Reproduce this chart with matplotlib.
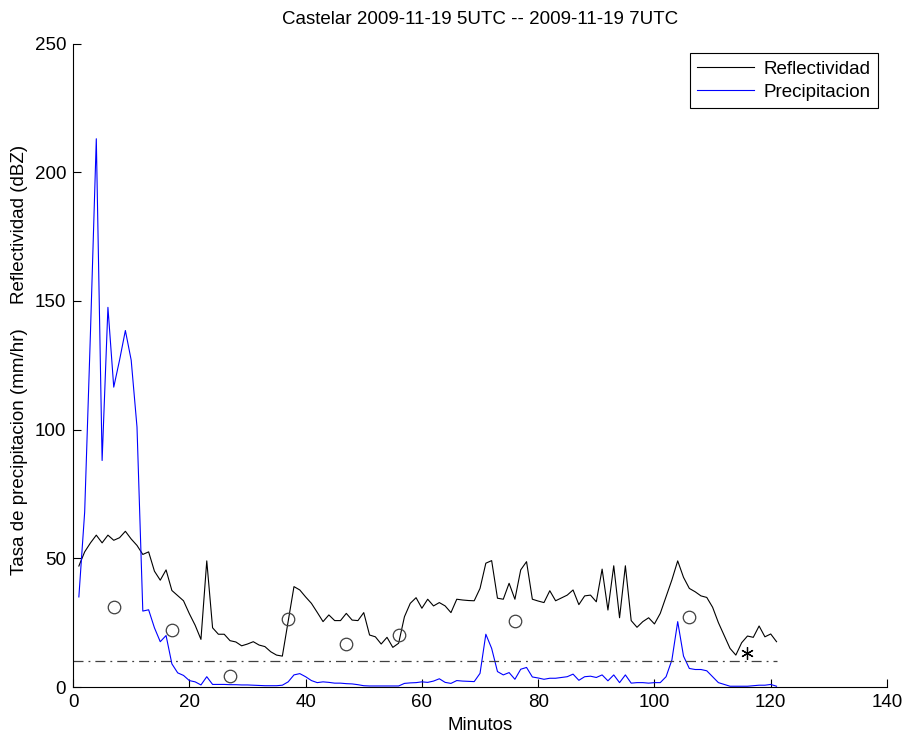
import numpy as np
import matplotlib.pyplot as plt

# ------------------------------------------------------------------ #
#   Data (one sample per minute, 1..121)
# ------------------------------------------------------------------ #
minutos = np.arange(1, 122)

reflectividad = [
    47, 52.5, 56, 59, 56, 59, 57, 58, 60.5, 57.5,
    55, 51.5, 52.5, 45, 41.5, 45.5, 37.5, 35.5, 33.5, 28.5,
    24, 18.5, 49, 23, 20.5, 20.5, 18, 17.5, 16, 16.7,
    17.6, 16.3, 15.7, 13.7, 12.4, 12, 25.5, 39, 37.7, 35,
    32.5, 29, 25.4, 28, 25.8, 25.8, 28.6, 26, 25.8, 28.9,
    20.2, 19.5, 16.7, 19.3, 15.4, 17, 27.3, 32.5, 34.7, 30.6,
    34.1, 31.5, 32.8, 31.5, 28.9, 34.1, 33.8, 33.6, 33.5, 38.3,
    48.1, 49.1, 34.5, 34.1, 40.3, 34.1, 45.5, 48.7, 34.1, 33.4,
    32.8, 37.4, 33.5, 34.6, 35.7, 37.7, 32, 35.4, 35.7, 33.1,
    45.8, 29.9, 47.1, 26.9, 47.1, 25.8, 23.2, 25.4, 26.9, 24.5,
    28.6, 35.1, 41.6, 49, 42.6, 38.3, 37, 35.4, 34.8, 31,
    25, 20, 15, 12.4, 17.2, 19.8, 19.3, 23.7, 19.5, 20.6,
    17.6,
]

precipitacion = [
    35, 68, 138, 213, 88, 147.5, 116.5, 127, 138.5, 127,
    101, 29.5, 30, 23, 17.6, 20, 9, 5.5, 4.5, 2.5,
    2, 0.8, 4, 1.0, 1.0, 1.0, 0.9, 0.9, 0.8, 0.8,
    0.7, 0.6, 0.5, 0.5, 0.5, 0.7, 2, 4.7, 5.2, 4,
    2.5, 1.7, 2, 1.8, 1.5, 1.5, 1.3, 1.2, 0.9, 0.5,
    0.4, 0.4, 0.4, 0.4, 0.4, 0.4, 1.4, 1.6, 1.7, 2,
    1.8, 2.3, 3.2, 1.8, 1.4, 2.5, 2.3, 2.2, 2.1, 5.3,
    20.5, 15, 6, 4.7, 5.6, 3, 6.9, 7.6, 3.9, 3.5,
    3, 3.4, 3.4, 3.7, 4, 5, 2.6, 4, 4.2, 3.7,
    4.7, 2.4, 4.7, 1.7, 4.7, 1.5, 1.7, 1.7, 1.5, 1.7,
    1.7, 4, 10.5, 25.4, 12, 7.2, 6.8, 6.8, 6.3, 4,
    1.7, 1.0, 0.3, 0.3, 0.3, 0.3, 0.5, 0.7, 0.7, 1.0,
    0.3,
]

# gauge observations (circles) and the single star
obs_x = [7, 17, 27, 37, 47, 56, 76, 106]
obs_y = [31, 22, 4.3, 26.3, 16.7, 20.2, 25.8, 27.3]
star_x = [116]
star_y = [13.3]

umbral = 10
umbral_x = [0, 121]

# ------------------------------------------------------------------ #
#   Figure
# ------------------------------------------------------------------ #
plt.rcParams["font.family"] = ["Liberation Sans", "DejaVu Sans"]
plt.rcParams["font.size"] = 13.5

fig = plt.figure(figsize=(9.04, 7.35), dpi=100)
ax = fig.add_axes([0.0808, 0.0653, 0.9004, 0.8755])

ax.plot(minutos, reflectividad, color="black", linewidth=0.8, label="Reflectividad")
ax.plot(minutos, precipitacion, color="#0000ff", linewidth=0.8, label="Precipitacion")
ax.plot(umbral_x, [umbral, umbral], color="#404040", linewidth=0.9,
        linestyle=(0, (8, 4, 1.5, 4)))
ax.plot(obs_x, obs_y, linestyle="none", marker="o", markersize=9,
        markerfacecolor="none", markeredgecolor="#404040", markeredgewidth=0.9)
ax.plot(star_x, star_y, linestyle="none", marker=(6, 2, 0), markersize=9,
        color="black", markeredgewidth=0.9)

ax.set_xlim(0, 140)
ax.set_ylim(0, 250)
ax.set_xticks(np.arange(0, 141, 20))
ax.set_yticks(np.arange(0, 251, 50))
ax.tick_params(direction="in", length=6, width=0.8, pad=5)
ax.spines["top"].set_visible(False)
ax.spines["right"].set_visible(False)

ax.set_title("Castelar 2009-11-19 5UTC -- 2009-11-19 7UTC", fontsize=13.5, pad=14)
ax.set_xlabel("Minutos", labelpad=4)

# the y label is two pieces stacked along the left edge
fig.text(0.022, 1 - 224 / 735, "Reflectividad (dBZ)", rotation=90,
         ha="center", va="center")
fig.text(0.022, 1 - 452 / 735, "Tasa de precipitacion (mm/hr)", rotation=90,
         ha="center", va="center")

leg = ax.legend(loc="upper right", fancybox=False, edgecolor="black",
                framealpha=1, handlelength=3.0, borderaxespad=0.5,
                borderpad=0.4, labelspacing=0.33, handletextpad=0.5)
leg.get_frame().set_linewidth(0.8)

fig.savefig("out.png", dpi=100)
